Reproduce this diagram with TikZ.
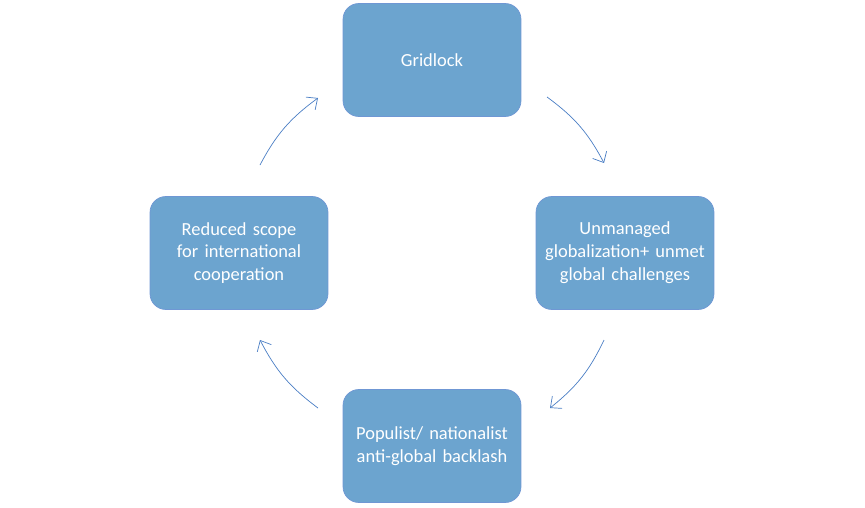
\documentclass[tikz,border=0pt]{standalone}
\usepackage{fontspec}
\setmainfont{Carlito}
\usetikzlibrary{positioning,arrows.meta}
\definecolor{boxblue}{HTML}{4F81BD}
\definecolor{boxedge}{HTML}{6F97D4}
\definecolor{arrowblue}{HTML}{4A7EC4}
\tikzset{cyclebox/.style={rectangle,rounded corners=9pt,draw=boxedge,fill=boxblue!90!cyan!80!white,
    text=white,minimum width=3.56cm,minimum height=2.26cm,align=center,text width=3.3cm,font=\fontsize{10.5}{13}\selectfont},
  cyclearrow/.style={draw=arrowblue,thin,-{Straight Barb[length=5pt,width=9pt]},bend left=13}}
\begin{document}
\begin{tikzpicture}[x=0.02cm,y=-0.02cm]
        \useasboundingbox (0,0) rectangle (865,507);
        \node[cyclebox] (grid) at (432,60) {Gridlock};
        \node[cyclebox] (glob) at (625,253) {Unmanaged globalization+ unmet global challenges};
        \node[cyclebox] (pop) at (432,446) {Populist/ nationalist anti-global backlash};
        \node[cyclebox] (coop) at (239,253) {Reduced scope for international cooperation};

        % arrow ends
        \coordinate (a1) at (547,97);  \coordinate (b1) at (604,163);
        \coordinate (a2) at (604,340); \coordinate (b2) at (550,408);
        \coordinate (a3) at (318,408); \coordinate (b3) at (260,340);
        \coordinate (a4) at (260,165); \coordinate (b4) at (318,98);

        \foreach \i in {1,...,4}
        {
            \draw[cyclearrow] (a\i) to (b\i);
        }
\end{tikzpicture}
\end{document}
